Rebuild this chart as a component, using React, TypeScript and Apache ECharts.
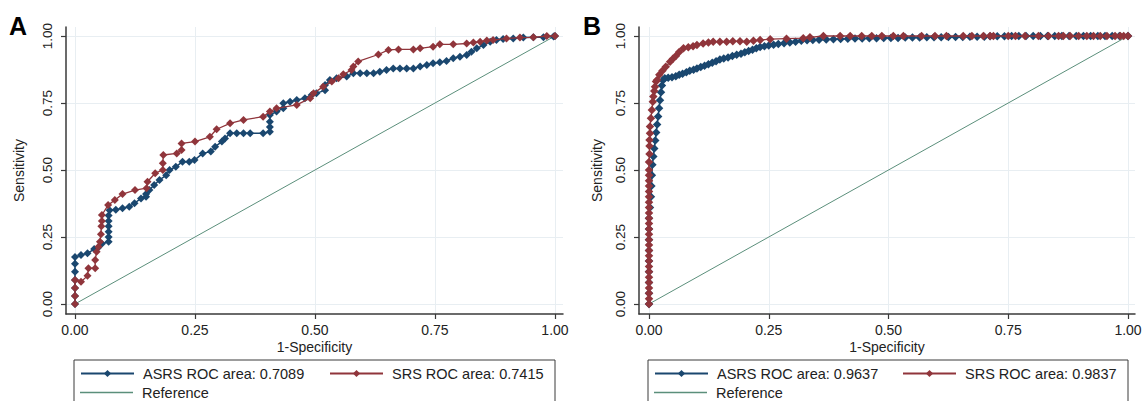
import React, { useEffect, useRef } from "react";
import * as echarts from "echarts";

// ---- Data -----------------------------------------------------------------
const TICKS = [0, 0.25, 0.5, 0.75, 1];
const TICK_LABELS = ["0.00", "0.25", "0.50", "0.75", "1.00"];
const X_TITLE = "1-Specificity";
const Y_TITLE = "Sensitivity";
const PANEL_LABELS = ["A", "B"];
const NAMES_A = ["ASRS ROC area: 0.7089", "SRS ROC area: 0.7415", "Reference"];
const NAMES_B = ["ASRS ROC area: 0.9637", "SRS ROC area: 0.9837", "Reference"];
const REFERENCE: number[][] = [[0, 0], [1, 1]];

const asrsA: number[][] = [
  [0, 0], [0, 0.03], [0, 0.06], [0, 0.09], [0, 0.12], [0, 0.15], [0, 0.175],
  [0.0125, 0.183], [0.026, 0.189], [0.04, 0.205], [0.048, 0.21], [0.056, 0.225],
  [0.07, 0.232], [0.07, 0.25], [0.07, 0.27], [0.07, 0.29], [0.07, 0.31], [0.07, 0.33], [0.072, 0.35],
  [0.085, 0.352], [0.099, 0.357], [0.113, 0.363], [0.124, 0.376], [0.1375, 0.394], [0.148, 0.4],
  [0.148, 0.41], [0.155, 0.425], [0.165, 0.444], [0.176, 0.463], [0.19, 0.48], [0.197, 0.5],
  [0.21, 0.512], [0.224, 0.531], [0.238, 0.531], [0.249, 0.537], [0.266, 0.562], [0.283, 0.569],
  [0.292, 0.587], [0.306, 0.606], [0.3125, 0.618], [0.323, 0.637], [0.337, 0.637], [0.351, 0.637],
  [0.365, 0.637], [0.392, 0.637], [0.406, 0.643], [0.406, 0.66], [0.406, 0.68], [0.406, 0.705],
  [0.42, 0.718], [0.434, 0.73], [0.434, 0.749], [0.448, 0.755], [0.462, 0.761], [0.479, 0.768],
  [0.493, 0.78], [0.503, 0.786], [0.521, 0.798], [0.521, 0.817], [0.531, 0.836], [0.545, 0.842],
  [0.566, 0.849], [0.58, 0.861], [0.594, 0.861], [0.608, 0.861], [0.622, 0.861], [0.635, 0.867],
  [0.649, 0.873], [0.663, 0.879], [0.677, 0.879], [0.691, 0.879], [0.705, 0.879], [0.719, 0.886],
  [0.733, 0.892], [0.746, 0.898], [0.76, 0.902], [0.774, 0.907], [0.788, 0.917], [0.802, 0.923],
  [0.816, 0.929], [0.826, 0.941], [0.837, 0.954], [0.851, 0.966], [0.865, 0.979], [0.878, 0.985],
  [0.892, 0.989], [0.913, 0.991], [0.934, 0.994], [0.955, 0.995], [0.976, 0.995], [0.997, 0.998],
  [1, 1],
];

const srsA: number[][] = [
  [0, 0], [0, 0.03], [0, 0.06], [0, 0.09], [0.0125, 0.083], [0.026, 0.105], [0.028, 0.133],
  [0.042, 0.133], [0.042, 0.164], [0.045, 0.195], [0.049, 0.214], [0.052, 0.232], [0.054, 0.26],
  [0.055, 0.29], [0.056, 0.31], [0.056, 0.332], [0.069, 0.369], [0.083, 0.388], [0.099, 0.41],
  [0.125, 0.425], [0.149, 0.432], [0.151, 0.456], [0.167, 0.488], [0.183, 0.5], [0.183, 0.525],
  [0.184, 0.556], [0.212, 0.562], [0.222, 0.575], [0.222, 0.599], [0.25, 0.606], [0.281, 0.624],
  [0.295, 0.652], [0.323, 0.674], [0.351, 0.687], [0.392, 0.699], [0.406, 0.718], [0.42, 0.73],
  [0.462, 0.743], [0.49, 0.768], [0.497, 0.786], [0.517, 0.811], [0.535, 0.83], [0.549, 0.842],
  [0.559, 0.857], [0.576, 0.873], [0.58, 0.886], [0.59, 0.905], [0.632, 0.931], [0.653, 0.948],
  [0.674, 0.95], [0.705, 0.95], [0.719, 0.954], [0.746, 0.96], [0.76, 0.969], [0.788, 0.969],
  [0.816, 0.972], [0.83, 0.976], [0.844, 0.979], [0.858, 0.983], [0.871, 0.985], [0.899, 0.991],
  [0.927, 0.994], [0.955, 0.995], [0.983, 1.0], [1, 1],
];

const asrsB: number[][] = [
  [0, 0], [0, 0.04], [0, 0.08], [0, 0.12], [0, 0.16], [0, 0.2], [0, 0.24], [0, 0.28], [0, 0.32],
  [0.002, 0.36], [0.004, 0.4], [0.005, 0.44], [0.006, 0.48], [0.007, 0.52], [0.009, 0.55],
  [0.011, 0.58], [0.013, 0.61], [0.015, 0.64], [0.017, 0.67], [0.019, 0.7], [0.021, 0.73],
  [0.023, 0.76], [0.025, 0.79], [0.027, 0.815], [0.029, 0.835], [0.033, 0.842], [0.04, 0.844],
  [0.048, 0.846], [0.056, 0.85], [0.063, 0.855], [0.07, 0.859], [0.078, 0.865], [0.085, 0.87],
  [0.093, 0.874], [0.1, 0.879], [0.108, 0.884], [0.116, 0.889], [0.124, 0.895], [0.132, 0.9],
  [0.14, 0.906], [0.148, 0.912], [0.156, 0.916], [0.165, 0.92], [0.174, 0.925], [0.183, 0.93],
  [0.192, 0.934], [0.2, 0.939], [0.208, 0.944], [0.216, 0.949], [0.224, 0.954], [0.232, 0.959],
  [0.241, 0.962], [0.25, 0.965], [0.26, 0.967], [0.27, 0.97], [0.282, 0.973], [0.294, 0.976],
  [0.306, 0.979], [0.318, 0.982], [0.33, 0.984], [0.342, 0.985], [0.355, 0.986], [0.37, 0.987],
  [0.385, 0.988], [0.4, 0.989], [0.415, 0.99], [0.43, 0.991], [0.445, 0.991], [0.46, 0.992],
  [0.475, 0.992], [0.49, 0.993], [0.505, 0.993], [0.52, 0.993], [0.535, 0.994], [0.55, 0.994],
  [0.565, 0.994], [0.58, 0.995], [0.595, 0.995], [0.61, 0.995], [0.625, 0.996], [0.64, 0.996],
  [0.655, 0.996], [0.67, 0.997], [0.685, 0.997], [0.7, 0.997], [0.712, 0.999], [0.727, 0.999],
  [0.742, 0.999], [0.757, 1], [0.772, 1], [0.787, 1], [0.802, 1], [0.817, 1], [0.832, 1],
  [0.847, 1], [0.862, 1], [0.877, 1], [0.892, 1], [0.907, 1], [0.922, 1], [0.937, 1], [0.952, 1],
  [0.967, 1], [0.982, 1], [1, 1],
];

const srsB: number[][] = [
  [0, 0], [0, 0.02], [0, 0.04], [0, 0.06], [0, 0.08], [0, 0.1], [0, 0.12], [0, 0.14], [0, 0.16],
  [0, 0.18], [0, 0.2], [0, 0.22], [0, 0.24], [0, 0.26], [0, 0.28], [0, 0.3], [0, 0.32], [0, 0.34],
  [0, 0.36], [0, 0.38], [0, 0.4], [0, 0.42], [0, 0.44], [0, 0.46], [0, 0.48], [0, 0.5],
  [0, 0.53], [0.001, 0.56], [0.001, 0.59], [0.001, 0.612], [0.002, 0.637], [0.002, 0.662],
  [0.004, 0.693], [0.006, 0.724], [0.008, 0.755], [0.009, 0.774], [0.011, 0.795], [0.0125, 0.811],
  [0.0146, 0.83], [0.017, 0.836], [0.0215, 0.855], [0.028, 0.87], [0.035, 0.885], [0.044, 0.904],
  [0.05, 0.915], [0.056, 0.925], [0.063, 0.94], [0.072, 0.954], [0.082, 0.958], [0.092, 0.962],
  [0.1, 0.966], [0.113, 0.972], [0.124, 0.976], [0.134, 0.979], [0.148, 0.979], [0.162, 0.979],
  [0.175, 0.98], [0.19, 0.98], [0.204, 0.979], [0.218, 0.982], [0.232, 0.985], [0.253, 0.988],
  [0.287, 0.99], [0.322, 0.992], [0.336, 0.995], [0.364, 1], [0.399, 1], [0.42, 1], [0.444, 1],
  [0.465, 1], [0.486, 1], [0.51, 1], [0.531, 1], [0.569, 1], [0.597, 1], [0.621, 1], [0.656, 1],
  [0.674, 1], [0.698, 1], [0.712, 1], [0.719, 1], [0.75, 1], [0.765, 1], [0.785, 1], [0.813, 1],
  [0.834, 1], [0.855, 1], [0.865, 1], [0.879, 1], [0.897, 1], [0.914, 1], [0.928, 1], [0.942, 1],
  [0.956, 1], [0.973, 1], [0.984, 1], [0.991, 1], [1, 1],
];

// ---- Styles ---------------------------------------------------------------
const BLUE = "#1a476f";
const RED = "#90353b";
const TEAL = "#5b8f7b";
const AXIS = "#3a3a3a";
const GRIDC = "#e8eef2";
const TXT = "#222222";
const FONT = 'Arial, "Liberation Sans", Helvetica, sans-serif';

const fmt = (v: number) => {
  const i = TICKS.findIndex((t) => Math.abs(t - v) < 1e-9);
  return i >= 0 ? TICK_LABELS[i] : "";
};

function makeX(gridIndex: number, min: number, max: number) {
  return {
    type: "value",
    gridIndex,
    min,
    max,
    axisLine: { show: true, onZero: false, lineStyle: { color: AXIS, width: 1.5 } },
    axisTick: { show: true, length: 5, customValues: TICKS, lineStyle: { color: AXIS, width: 1.2 } },
    axisLabel: { customValues: TICKS, formatter: fmt, fontSize: 14, color: TXT, margin: 9, fontFamily: FONT },
    splitLine: { show: true, lineStyle: { color: GRIDC, width: 1 } },
    name: X_TITLE,
    nameLocation: "middle",
    nameGap: 26,
    nameMoveOverlap: false,
    nameTextStyle: { fontSize: 14, color: TXT, fontFamily: FONT },
  };
}

function makeY(gridIndex: number, nameGap: number) {
  return {
    type: "value",
    gridIndex,
    min: -0.0373,
    max: 1.0336,
    axisLine: { show: true, onZero: false, lineStyle: { color: AXIS, width: 1.5 } },
    axisTick: { show: true, length: 5, customValues: TICKS, lineStyle: { color: AXIS, width: 1.2 } },
    axisLabel: { customValues: TICKS, formatter: fmt, fontSize: 13.5, color: TXT, margin: 12, rotate: 90, fontFamily: FONT },
    splitLine: { show: true, lineStyle: { color: GRIDC, width: 1 } },
    name: Y_TITLE,
    nameLocation: "middle",
    nameGap,
    nameTextStyle: { fontSize: 14, color: TXT, fontFamily: FONT },
  };
}

function makeSeries(idx: number, names: string[], asrs: number[][], srs: number[][], size: number) {
  return [
    {
      name: names[2], type: "line", xAxisIndex: idx, yAxisIndex: idx, data: REFERENCE,
      symbol: "none", lineStyle: { color: TEAL, width: 1 }, itemStyle: { color: TEAL }, z: 2,
    },
    {
      name: names[0], type: "line", xAxisIndex: idx, yAxisIndex: idx, data: asrs,
      symbol: "diamond", symbolSize: size, lineStyle: { color: BLUE, width: 1.5 }, itemStyle: { color: BLUE }, z: 3,
    },
    {
      name: names[1], type: "line", xAxisIndex: idx, yAxisIndex: idx, data: srs,
      symbol: "diamond", symbolSize: size, lineStyle: { color: RED, width: 1.3 }, itemStyle: { color: RED }, z: 4,
    },
  ];
}

function makeLegend(name: string, left: number, top: number, isRef: boolean) {
  return {
    show: true,
    left,
    top,
    padding: 0,
    itemWidth: 53,
    itemHeight: isRef ? 1.3 : 9,
    itemGap: 0,
    selectedMode: false,
    data: [isRef ? { name, icon: "rect" } : { name }],
    textStyle: { fontSize: 14.5, color: TXT, fontFamily: FONT, padding: [0, 0, 0, 4] },
  };
}

export default function App() {
  const ref = useRef<HTMLDivElement>(null);
  useEffect(() => {
    if (!ref.current) return;
    const chart = echarts.init(ref.current, undefined, { renderer: "svg" });
    const option: any = {
      animation: false,
      backgroundColor: "#ffffff",
      textStyle: { fontFamily: FONT },
      grid: [
        { left: 66, top: 27, width: 497, height: 287, outerBoundsMode: "none" },
        { left: 639, top: 27, width: 496, height: 287, outerBoundsMode: "none" },
      ],
      xAxis: [makeX(0, -0.01875, 1.0167), makeX(1, -0.0209, 1.0146)],
      yAxis: [makeY(0, 40), makeY(1, 35)],
      legend: [
        makeLegend(NAMES_A[0], 80, 366, false),
        makeLegend(NAMES_A[1], 329, 366, false),
        makeLegend(NAMES_A[2], 80, 385, true),
        makeLegend(NAMES_B[0], 654, 366, false),
        makeLegend(NAMES_B[1], 902, 366, false),
        makeLegend(NAMES_B[2], 654, 385, true),
      ],
      graphic: [
        { type: "rect", shape: { x: 74, y: 360, width: 481, height: 70 }, style: { fill: "none", stroke: AXIS, lineWidth: 1 }, silent: true },
        { type: "rect", shape: { x: 648, y: 360, width: 480, height: 70 }, style: { fill: "none", stroke: AXIS, lineWidth: 1 }, silent: true },
        { type: "text", x: 9, y: 26, style: { text: PANEL_LABELS[0], font: `bold 25px ${FONT}`, fill: "#000", verticalAlign: "middle" } },
        { type: "text", x: 583, y: 26, style: { text: PANEL_LABELS[1], font: `bold 25px ${FONT}`, fill: "#000", verticalAlign: "middle" } },
      ],
      series: [
        ...makeSeries(0, NAMES_A, asrsA, srsA, 8),
        ...makeSeries(1, NAMES_B, asrsB, srsB, 8.5),
      ],
    };
    chart.setOption(option);
    return () => chart.dispose();
  }, []);
  return (
    <div
      ref={ref}
      style={{ position: "fixed", left: 0, top: 0, width: 1145, height: 401, background: "#fff" }}
    />
  );
}
